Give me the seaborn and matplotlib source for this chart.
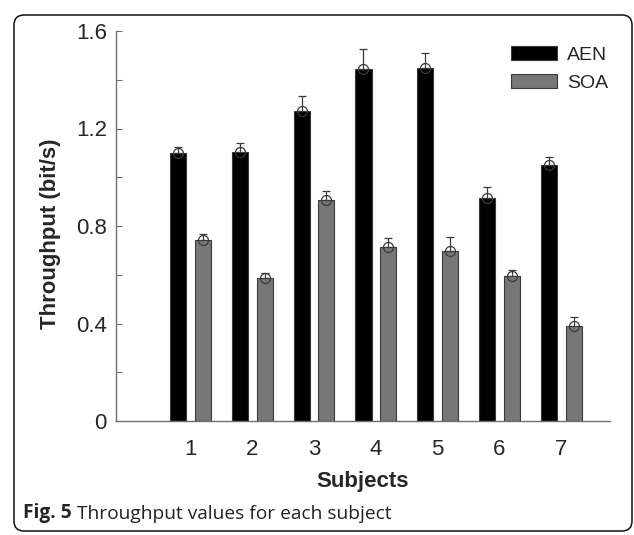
import pandas as pd
import matplotlib.pyplot as plt
import matplotlib.ticker as mticker
from matplotlib.patches import FancyBboxPatch
import seaborn as sns

# Values
SUBJECTS = ["1", "2", "3", "4", "5", "6", "7"]
AEN      = [1.100, 1.105, 1.270, 1.445, 1.450, 0.915, 1.050]
AEN_ERR  = [0.025, 0.037, 0.063, 0.083, 0.059, 0.046, 0.033]
SOA      = [0.743, 0.588, 0.907, 0.715, 0.699, 0.595, 0.390]
SOA_ERR  = [0.023, 0.020, 0.037, 0.035, 0.055, 0.023, 0.035]
Y_TICKS  = [0, 0.4, 0.8, 1.2, 1.6]
Y_TICK_LABELS = ["0", "0.4", "0.8", "1.2", "1.6"]

PALETTE  = {"AEN": "#000000", "SOA": "#777777"}
AXIS_CLR = "#6e6e6e"

sns.set_theme(style="white")
plt.rcParams["font.family"] = ["Liberation Sans", "DejaVu Sans"]

df = pd.DataFrame({
    "Subject": SUBJECTS * 2,
    "Throughput": AEN + SOA,
    "Group": ["AEN"] * len(AEN) + ["SOA"] * len(SOA),
})

fig = plt.figure(figsize=(6.34, 5.35), dpi=100)
ax = fig.add_axes([116 / 634, 114 / 535, 494 / 634, 390 / 535])

sns.barplot(data=df, x="Subject", y="Throughput", hue="Group",
            palette=PALETTE, width=0.8, gap=0.35, errorbar=None,
            edgecolor="#3a3a3a", linewidth=0.8, saturation=1, ax=ax)

# one-sided error bars with an open circle at each bar top
for cont, err in zip(ax.containers, [AEN_ERR, SOA_ERR]):
    xs = [p.get_x() + p.get_width() / 2 for p in cont.patches]
    ys = [p.get_height() for p in cont.patches]
    ax.errorbar(xs, ys, yerr=[[0] * len(err), err], fmt="o", ms=7.2,
                mfc="none", mec="#3a3a3a", mew=0.9, ecolor="#3a3a3a",
                elinewidth=0.9, capsize=3, capthick=0.9, zorder=5)

ax.set_ylim(0, 1.6)
ax.set_xlim(-1.206, 6.79)
ax.set_yticks(Y_TICKS)
ax.set_yticklabels(Y_TICK_LABELS)
ax.yaxis.set_minor_locator(mticker.MultipleLocator(0.2))
ax.tick_params(axis="y", which="both", direction="in", length=4, width=0.8,
               color=AXIS_CLR, labelsize=16, pad=6.5, left=True)
ax.tick_params(axis="x", length=0, labelsize=16, pad=13)

for side in ["top", "right"]:
    ax.spines[side].set_visible(False)
for side in ["left", "bottom"]:
    ax.spines[side].set_color(AXIS_CLR)
    ax.spines[side].set_linewidth(1.0)

ax.set_xlabel("Subjects", fontsize=16, fontweight="bold")
ax.set_ylabel("Throughput (bit/s)", fontsize=16, fontweight="bold")
ax.xaxis.set_label_coords(0.5, -0.128)
ax.yaxis.set_label_coords(-0.112, 0.48)

sns.move_legend(ax, "upper left", bbox_to_anchor=(511 / 634, 1 - 46 / 535),
                bbox_transform=fig.transFigure, title=None, frameon=False,
                fontsize=14, handlelength=2.37, handletextpad=0.5,
                labelspacing=0.55, borderpad=0, borderaxespad=0)

# caption with bold figure number
cap_font = ["Open Sans", "DejaVu Sans"]
t1 = fig.text(23 / 634, 1 - 518 / 535, "Fig. 5", fontsize=13.8, fontweight="bold",
              family=cap_font, va="baseline")
ax.annotate(" Throughput values for each subject", xy=(1, 0), xycoords=t1,
            va="bottom", ha="left", fontsize=13.8, family=cap_font,
            color="#222222", annotation_clip=False)

# rounded frame around the figure
frame = FancyBboxPatch((0.14, 0.04), 6.18, 5.16,
                       boxstyle="round,pad=0,rounding_size=0.1",
                       transform=fig.dpi_scale_trans, fill=False,
                       edgecolor="#111111", linewidth=1.1)
fig.add_artist(frame)

fig.savefig("out.png", dpi=100)
plt.close(fig)
